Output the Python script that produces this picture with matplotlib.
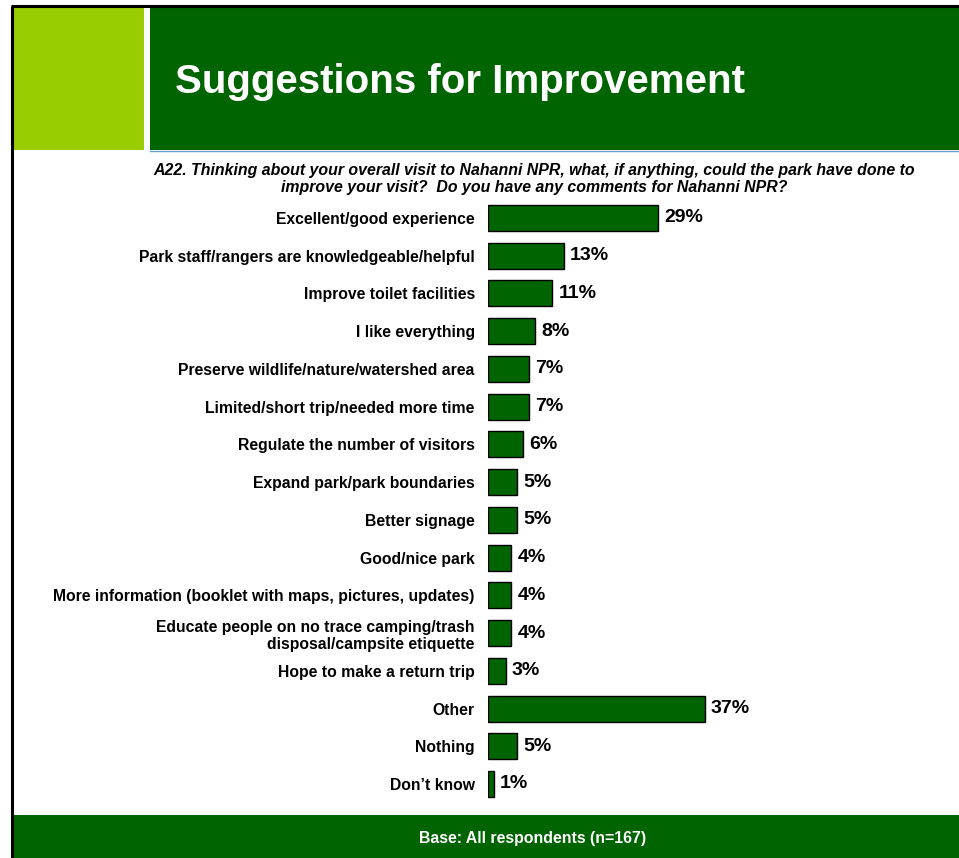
import matplotlib.pyplot as plt
from matplotlib.patches import Rectangle

plt.rcParams['font.family'] = ['Liberation Sans', 'DejaVu Sans']

categories = [
    "Excellent/good experience",
    "Park staff/rangers are knowledgeable/helpful",
    "Improve toilet facilities",
    "I like everything",
    "Preserve wildlife/nature/watershed area",
    "Limited/short trip/needed more time",
    "Regulate the number of visitors",
    "Expand park/park boundaries",
    "Better signage",
    "Good/nice park",
    "More information (booklet with maps, pictures, updates)",
    "Educate people on no trace camping/trash\ndisposal/campsite etiquette",
    "Hope to make a return trip",
    "Other",
    "Nothing",
    "Don\u2019t know",
]
values = [29, 13, 11, 8, 7, 7, 6, 5, 5, 4, 4, 4, 3, 37, 5, 1]

title = "Suggestions for Improvement"
question = ("A22. Thinking about your overall visit to Nahanni NPR, what, if anything, could the park have done to\n"
            "improve your visit?  Do you have any comments for Nahanni NPR?")
base_note = "Base: All respondents (n=167)"

DARK_GREEN = "#006400"
LIME = "#99CC00"

W, H = 959, 858
fig = plt.figure(figsize=(W / 100, H / 100), dpi=100)


def box(x0, y0, x1, y1):
    # pixel box (top-left origin) -> figure fraction rect
    return [x0 / W, 1 - y1 / H, (x1 - x0) / W, (y1 - y0) / H]


bg = fig.add_axes([0, 0, 1, 1])
bg.set_xlim(0, W)
bg.set_ylim(H, 0)
bg.axis("off")

# slide frame and header blocks
bg.add_patch(Rectangle((13, 7), 131, 143, color=LIME, lw=0))
bg.add_patch(Rectangle((150, 7), W - 150, 143, color=DARK_GREEN, lw=0))
bg.plot([150, W], [150.5, 150.5], color="#6A9FD0", lw=1)
bg.add_patch(Rectangle((13, 815), W - 13, 43, color=DARK_GREEN, lw=0))
bg.plot([12, 12], [6, H], color="black", lw=2.2, solid_capstyle="butt")
bg.plot([11, W], [6, 6], color="black", lw=2.2, solid_capstyle="butt")

bg.text(175, 82, title, color="white", fontsize=29, fontweight="bold",
        ha="left", va="center")
bg.text(534, 179, question, fontsize=11.4, fontweight="bold", style="italic",
        ha="center", va="center", linespacing=1.1)
bg.text(533, 839, base_note, color="white", fontsize=11.4, fontweight="bold",
        ha="center", va="center")

# bar chart
step = (784 - 218) / 15
px_per_pct = 170 / 29
ax = fig.add_axes(box(488, 218 - step / 2, W, 784 + step / 2))
ax.set_xlim(0, (W - 488) / px_per_pct)
ax.set_ylim(len(values) - 0.5, -0.5)
pos = list(range(len(values)))
ax.barh(pos, values, height=0.69, color=DARK_GREEN, edgecolor="black", lw=1)
for y, v in zip(pos, values):
    ax.text(v + 6 / px_per_pct, y, f"{v}%", fontsize=14, fontweight="bold",
            ha="left", va="center")
ax.set_yticks(pos)
ax.set_yticklabels(categories, fontsize=11.3, fontweight="bold")
ax.tick_params(axis="y", length=0, pad=9.5)
ax.set_xticks([])
for s in ax.spines.values():
    s.set_visible(False)
ax.patch.set_alpha(0)

fig.savefig("out.png", dpi=100)
